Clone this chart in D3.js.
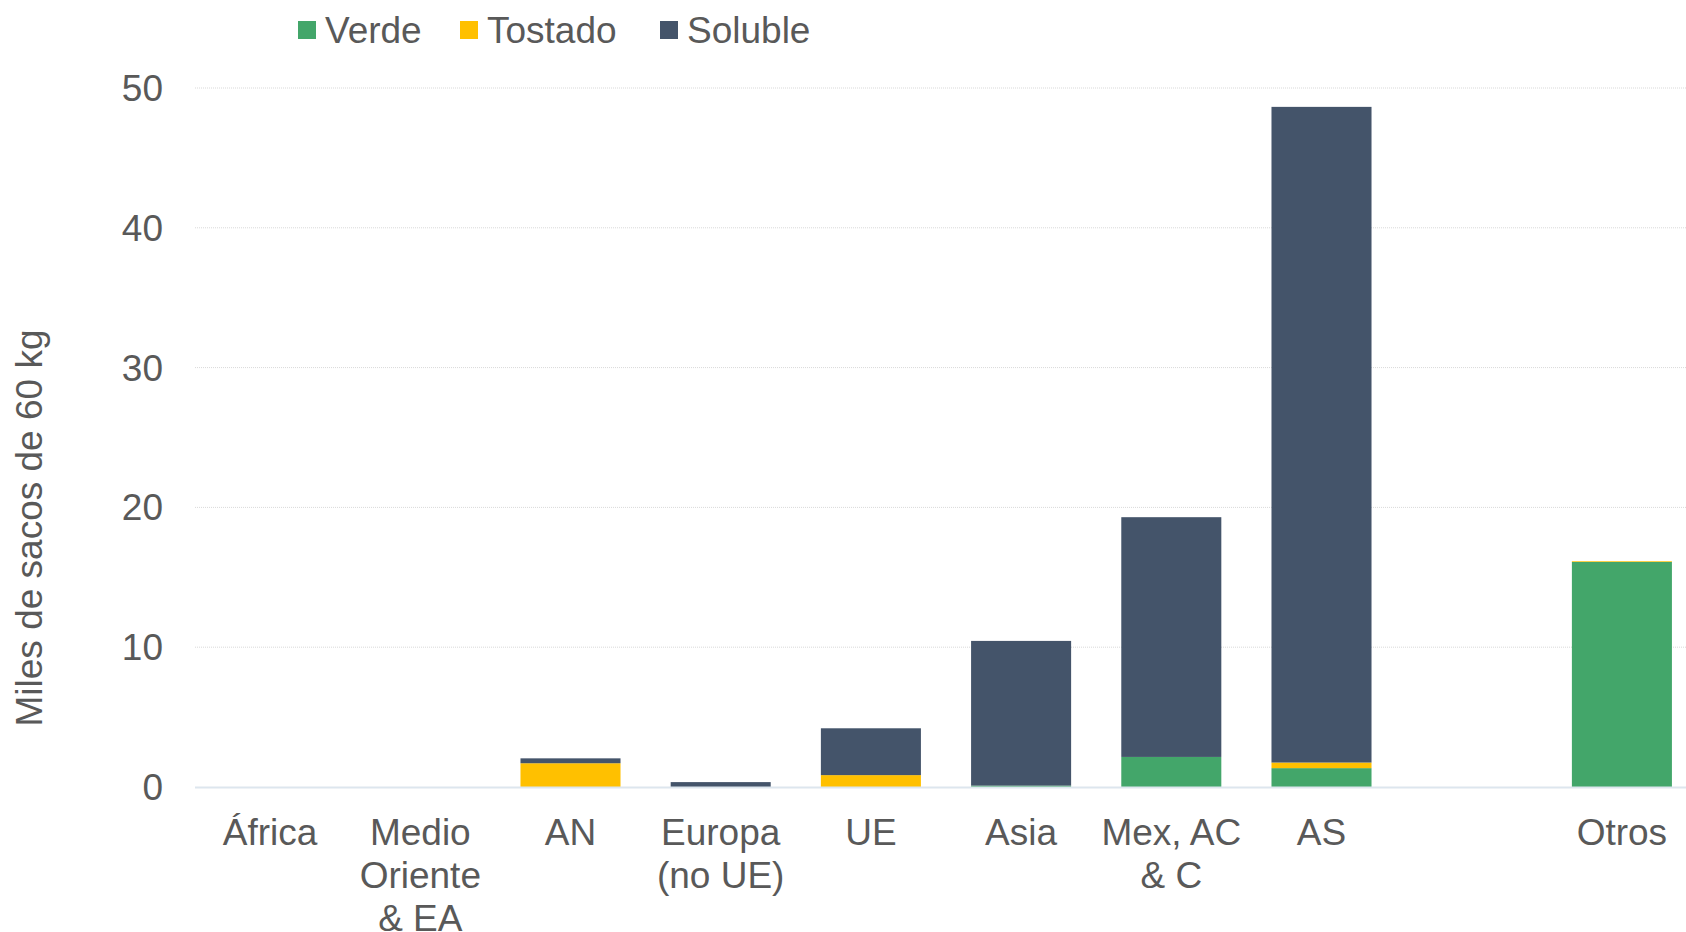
<!DOCTYPE html>
<html>
<head>
<meta charset="utf-8">
<script src="https://cdn.jsdelivr.net/npm/d3@7"></script>
<style>
	body { margin: 0; background: #fff; }
	text { font-family: "Liberation Sans", Arial, sans-serif; fill: #595959; }
</style>
</head>
<body>
<div id="chart"></div>
<script>
// regions (line breaks as "\n"), the empty slot is kept as a gap before "Otros"
var categories = ["África", "Medio\nOriente\n& EA", "AN", "Europa\n(no UE)", "UE", "Asia", "Mex, AC\n& C", "AS", " ", "Otros"];
var verde   = [0, 0, 0,    0,    0,    0.1,   2.15, 1.35, 0, 16.1];
var tostado = [0, 0, 1.7,  0,    0.85, 0,     0,    0.4,  0, 0.05];
var soluble = [0, 0, 0.35, 0.35, 3.35, 10.35, 17.15, 46.9, 0, 0];
var seriesNames = ["Verde", "Tostado", "Soluble"];
var seriesColors = ["#43A66A", "#FFC000", "#44546A"];
var yTicks = [0, 10, 20, 30, 40, 50];

var width = 1686, height = 932;
var margin = {top: 88, left: 195, bottom: 145};

var svg = d3.select("#chart")
	.append("svg")
	.attr("width", width)
	.attr("height", height);

var rows = categories.map(function(c, i) {
	return {cat: c, Verde: verde[i], Tostado: tostado[i], Soluble: soluble[i]};
});

var x = d3.scaleBand()
	.domain(categories)
	.range([margin.left, margin.left + 10 * 150.2])
	.paddingInner(0.334)
	.paddingOuter(0.167);

var y = d3.scaleLinear()
	.domain([0, 50])
	.range([787, margin.top]);

// gridlines
svg.append("g")
	.selectAll("line")
	.data(yTicks.filter(function(d) { return d > 0; }))
	.enter().append("line")
	.attr("x1", margin.left)
	.attr("x2", width)
	.attr("y1", function(d) { return y(d); })
	.attr("y2", function(d) { return y(d); })
	.style("stroke", "#D9D9D9")
	.style("stroke-width", 1)
	.style("stroke-dasharray", "1,1");

// tick labels
svg.append("g")
	.selectAll("text")
	.data(yTicks)
	.enter().append("text")
	.attr("x", 163)
	.attr("y", function(d) { return y(d) + 13; })
	.attr("text-anchor", "end")
	.style("font-size", "37px")
	.text(function(d) { return d; });

// stacked bars
var stack = d3.stack().keys(seriesNames);
var layers = stack(rows);

svg.append("g")
	.selectAll("g")
	.data(layers)
	.enter().append("g")
	.style("fill", function(d, i) { return seriesColors[i]; })
	.selectAll("rect")
	.data(function(d) { return d; })
	.enter().append("rect")
	.attr("x", function(d) { return x(d.data.cat); })
	.attr("width", x.bandwidth())
	.attr("y", function(d) { return y(d[1]); })
	.attr("height", function(d) { return y(d[0]) - y(d[1]); });

// baseline
svg.append("line")
	.attr("x1", margin.left)
	.attr("x2", width)
	.attr("y1", y(0) + 0.5)
	.attr("y2", y(0) + 0.5)
	.style("stroke", "#DDE6EE")
	.style("stroke-width", 2);

// category labels
var catLabels = svg.append("g")
	.selectAll("text")
	.data(categories)
	.enter().append("text")
	.attr("text-anchor", "middle")
	.attr("x", function(d) { return x(d) + x.bandwidth() / 2; })
	.attr("y", 845)
	.style("font-size", "37px");

catLabels.each(function(d) {
	var t = d3.select(this);
	var cx = x(d) + x.bandwidth() / 2;
	d.split("\n").forEach(function(line, i) {
		t.append("tspan")
			.attr("x", cx)
			.attr("dy", i === 0 ? 0 : 43)
			.text(line);
	});
});

// axis title
svg.append("text")
	.attr("transform", "translate(42,528) rotate(-90)")
	.attr("text-anchor", "middle")
	.style("font-size", "37px")
	.text("Miles de sacos de 60 kg");

// legend
var legendX = [298, 460, 660];
var legend = svg.append("g")
	.selectAll("g")
	.data(seriesNames)
	.enter().append("g")
	.attr("transform", function(d, i) { return "translate(" + legendX[i] + ",0)"; });

legend.append("rect")
	.attr("x", 0)
	.attr("y", 21)
	.attr("width", 18)
	.attr("height", 18)
	.style("fill", function(d, i) { return seriesColors[i]; });

legend.append("text")
	.attr("x", 27)
	.attr("y", 43)
	.style("font-size", "37px")
	.text(function(d) { return d; });
</script>
</body>
</html>
